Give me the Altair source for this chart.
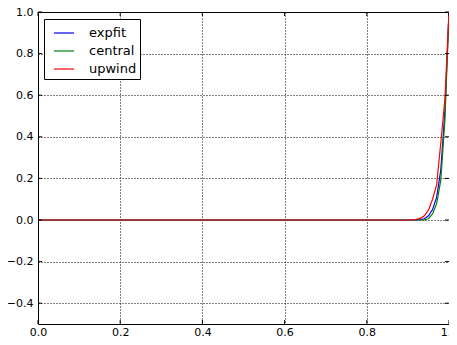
import altair as alt
import pandas as pd

# x positions of the computed solution (flat at 0 until the boundary layer)
x_vals = [0.0, 0.90, 0.91, 0.92, 0.93, 0.94, 0.95, 0.96, 0.97, 0.98, 0.99, 1.0]
expfit = [0.0, 0.0, 0.0, 0.0, 0.002, 0.006, 0.02, 0.05, 0.11, 0.24, 0.52, 1.0]
central = [0.0, 0.0, 0.0, 0.0, 0.0, 0.001, 0.006, 0.03, 0.08, 0.19, 0.48, 1.0]
upwind = [0.0, 0.0, 0.001, 0.003, 0.008, 0.02, 0.047, 0.10, 0.17, 0.37, 0.58, 1.0]

series_names = ["expfit", "central", "upwind"]
series_colors = ["#0000ff", "#008000", "#ff0000"]

x_ticks = [0.0, 0.2, 0.4, 0.6, 0.8, 1.0]
y_ticks = [-0.4, -0.2, 0.0, 0.2, 0.4, 0.6, 0.8, 1.0]

rows = []
for name, ys in zip(series_names, [expfit, central, upwind]):
    for xv, yv in zip(x_vals, ys):
        rows.append({"x": xv, "y": yv, "series": name})
df = pd.DataFrame(rows)

W, H = 411, 312
FONT = "DejaVu Sans"

xs = alt.Scale(domain=[0, 1], nice=False, zero=False)
ys_ = alt.Scale(domain=[-0.5, 1.0], nice=False, zero=False)

x_axis = alt.Axis(values=x_ticks, format=".1f", grid=True, ticks=False, domain=False,
                  title=None, labelPadding=2, labelFontSize=11, labelFont=FONT,
                  labelColor="black", gridColor="black", gridDash=[1, 2],
                  gridOpacity=1, gridWidth=1, labelFlush=False)
y_axis = alt.Axis(values=y_ticks, format=".1f", grid=True, ticks=False, domain=False,
                  title=None, labelPadding=5, labelFontSize=11, labelFont=FONT,
                  labelColor="black", gridColor="black", gridDash=[1, 2],
                  gridOpacity=1, gridWidth=1, labelFlush=False)

lines = alt.Chart(df).mark_line(strokeWidth=1.2, clip=True).encode(
    x=alt.X("x:Q", scale=xs, axis=x_axis),
    y=alt.Y("y:Q", scale=ys_, axis=y_axis),
    color=alt.Color("series:N",
                    scale=alt.Scale(domain=series_names, range=series_colors),
                    sort=series_names,
                    legend=alt.Legend(title=None, orient="none", legendX=6, legendY=7,
                                      strokeColor="black", fillColor="white",
                                      padding=3, cornerRadius=0,
                                      symbolType="stroke", symbolSize=400,
                                      symbolStrokeWidth=1.2, symbolOffset=6,
                                      labelOffset=14, rowPadding=0,
                                      labelFont=FONT, labelFontSize=13,
                                      labelColor="black")),
    order=alt.Order("x:Q"),
)

xt = pd.DataFrame({"v": x_ticks})
yt = pd.DataFrame({"v": y_ticks})

tick_bottom = alt.Chart(xt).mark_rule(color="black", strokeWidth=1).encode(
    x=alt.X("v:Q", scale=xs), y=alt.value(H), y2=alt.value(H - 4))
tick_top = alt.Chart(xt).mark_rule(color="black", strokeWidth=1).encode(
    x=alt.X("v:Q", scale=xs), y=alt.value(0), y2=alt.value(4))
tick_left = alt.Chart(yt).mark_rule(color="black", strokeWidth=1).encode(
    y=alt.Y("v:Q", scale=ys_), x=alt.value(0), x2=alt.value(4))
tick_right = alt.Chart(yt).mark_rule(color="black", strokeWidth=1).encode(
    y=alt.Y("v:Q", scale=ys_), x=alt.value(W), x2=alt.value(W - 4))

chart = alt.layer(lines, tick_bottom, tick_top, tick_left, tick_right).properties(
    width=W, height=H,
    autosize=alt.AutoSizeParams(type="none"),
    padding={"left": 30, "top": 4, "right": 0, "bottom": 13},
    background="white",
).configure_view(stroke="black", strokeWidth=1)

chart.save("out.html", embed_options={"renderer": "svg", "actions": False})
